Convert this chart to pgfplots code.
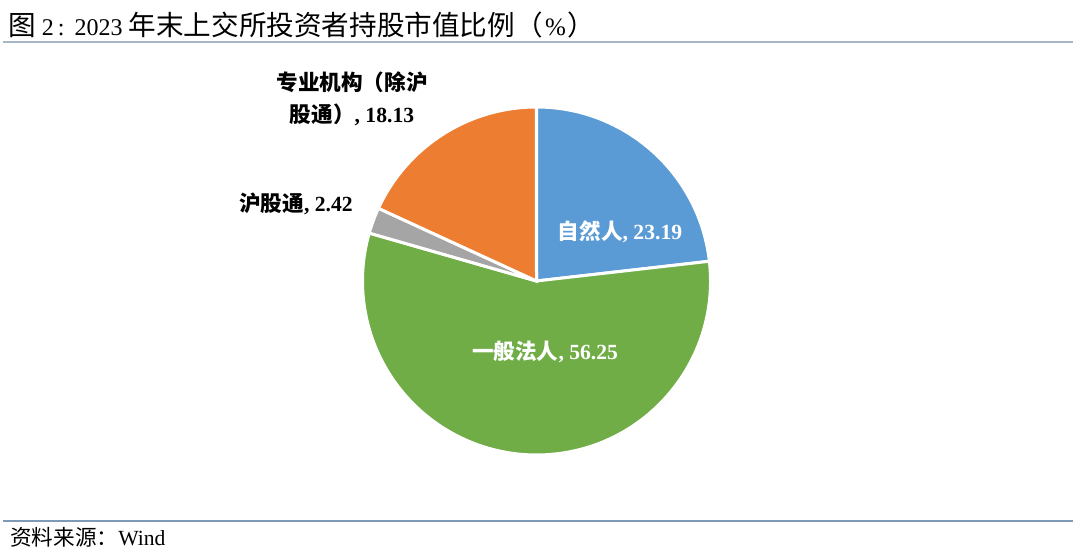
\documentclass[border=0pt]{standalone}
\usepackage{pgfplots}
\pgfplotsset{compat=1.18}
\usepackage{pgfplotstable}
\usepackage{fontspec}
\setmainfont{Liberation Serif}
\newfontfamily\cjk{Noto Sans CJK SC}
\newcommand\C[1]{{\cjk #1}}
\newcommand\T[1]{{\cjk\fontsize{13.8bp}{16bp}\selectfont #1}}
\definecolor{pBlue}{HTML}{5B9BD5}
\definecolor{pGreen}{HTML}{70AD47}
\definecolor{pGrey}{HTML}{A5A5A5}
\definecolor{pOrange}{HTML}{ED7D31}
\definecolor{topline}{HTML}{A7B7C8}
\definecolor{botline}{HTML}{7F9AB5}
\pgfplotstableread[col sep=comma]{
name,value,colour
自然人,23.19,pBlue
一般法人,56.25,pGreen
沪股通,2.42,pGrey
专业机构（除沪股通）,18.13,pOrange
}\piedata
\begin{document}
\begin{tikzpicture}
\begin{axis}[name=ax, width=540bp, height=277.5bp, scale only axis,
  xmin=0, xmax=1080, ymin=0, ymax=555, hide axis, clip=false]
\pgfplotsextra{
  \pgfplotstablegetrowsof{\piedata}
  \pgfmathtruncatemacro\nrows{\pgfplotsretval-1}
  \xdef\cum{90}
  \foreach \i in {0,...,\nrows}{
    \pgfplotstablegetelem{\i}{value}\of\piedata \let\val\pgfplotsretval
    \pgfplotstablegetelem{\i}{colour}\of\piedata \let\col\pgfplotsretval
    \pgfmathsetmacro\endang{\cum-3.6*\val}
    \fill[fill=\col, draw=white, line width=1.5bp, line join=miter]
      (axis cs:536.5,274) -- ++(\cum:87bp) arc[start angle=\cum, end angle=\endang, radius=87bp] -- cycle;
    \xdef\cum{\endang}
  }
}
% title and rules
\node[anchor=west, inner sep=0pt] at (axis cs:8,530)
  {\fontsize{12bp}{14bp}\selectfont\T{图} 2\hspace{2bp}:\hspace{5bp}2023 \T{年末上交所投资者持股市值比例}\makebox[14bp][r]{\T{（}}\hspace{1bp}{\fontsize{12.5bp}{14bp}\selectfont\%}\hspace{1bp}\makebox[14bp][l]{\T{）}}};
\draw[topline, line width=1.2bp] (axis cs:3,513) -- (axis cs:1073,513);
\draw[botline, line width=0.7bp] (axis cs:3,34) -- (axis cs:1073,34);
\node[anchor=west, inner sep=0pt] at (axis cs:10,18)
  {\fontsize{10.8bp}{13bp}\selectfont\C{资料来源：}Wind};
% slice labels
\node[white, font=\fontsize{10.8bp}{13bp}\selectfont\bfseries] at (axis cs:620,323) {\C{自然人}, 23.19};
\node[white, font=\fontsize{10.8bp}{13bp}\selectfont\bfseries] at (axis cs:545,203) {\C{一般法人}, 56.25};
\node[black, font=\fontsize{10.8bp}{13bp}\selectfont\bfseries] at (axis cs:296,351) {\C{沪股通}, 2.42};
\node[black, align=center, font=\fontsize{10.8bp}{16bp}\selectfont\bfseries] at (axis cs:352,456) {\C{专业机构（除沪}\\\C{股通）}, 18.13};
\end{axis}
\pgfresetboundingbox
\path (ax.south west) rectangle (ax.north east);
\end{tikzpicture}
\end{document}
